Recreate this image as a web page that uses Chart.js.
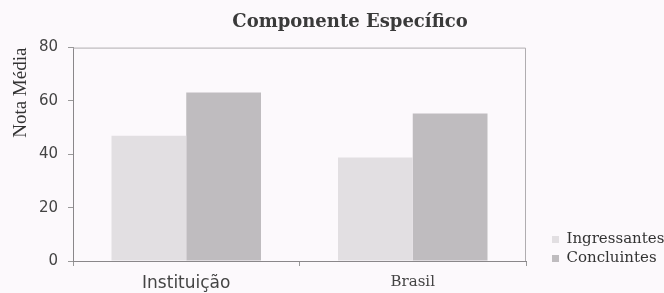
<!DOCTYPE html>
<html>
<head>
<meta charset="utf-8">
<script src="https://cdn.jsdelivr.net/npm/chart.js@4"></script>
<style>
  html, body { margin: 0; padding: 0; background: #fcf9fc; }
  #wrap { width: 664px; height: 293px; }
</style>
</head>
<body>
<div id="wrap"><canvas id="notaChart"></canvas></div>
<script>
// data
var categories = ['Instituição', 'Brasil'];
var ingressantes = [47, 38.8];
var concluintes = [63.2, 55.3];
var yTicks = [0, 20, 40, 60, 80];

document.addEventListener("DOMContentLoaded", function() {
    var ctx = document.getElementById('notaChart').getContext('2d');
    var serif = '"DejaVu Serif", serif';
    var sans = '"DejaVu Sans", sans-serif';

    // nudge legend and title to sit where the original ones do
    var boxSpots = {
        id: 'boxSpots',
        afterInit: function(c) {
            var lg = c.legend;
            var fit = lg.fit;
            lg.fit = function() {
                fit.call(this);
                this.width = 138;
            };
        },
        afterLayout: function(c) {
            c.legend.left = 548;
            c.legend.bottom = 270;
            c.titleBlock.left = 36;
            c.titleBlock.right = 664;
        }
    };

    var frame = {
        id: 'frame',
        afterDatasetsDraw: function(c) {
            var a = c.chartArea, g = c.ctx;
            g.save();
            g.strokeStyle = '#b0adb0';
            g.lineWidth = 1;
            g.beginPath();
            g.moveTo(a.left, a.top + 0.5);
            g.lineTo(a.right - 0.5, a.top + 0.5);
            g.lineTo(a.right - 0.5, a.bottom);
            g.stroke();
            g.restore();
        }
    };

    var chart = new Chart(ctx, {
        type: 'bar',
        data: {
            labels: categories,
            datasets: [{
                label: 'Ingressantes',
                data: ingressantes,
                backgroundColor: '#e2dfe2',
                borderWidth: 0
            }, {
                label: 'Concluintes',
                data: concluintes,
                backgroundColor: '#bfbcbf',
                borderWidth: 0
            }]
        },
        options: {
            responsive: true,
            maintainAspectRatio: false,
            animation: false,
            categoryPercentage: 0.66,
            barPercentage: 1,
            layout: { padding: 0 },
            plugins: {
                title: {
                    display: true,
                    text: 'Componente Específico',
                    color: '#3a3a3a',
                    font: { family: serif, size: 18, weight: 'bold' },
                    padding: { top: 12, bottom: 14 }
                },
                legend: {
                    position: 'right',
                    align: 'end',
                    labels: {
                        boxWidth: 7,
                        boxHeight: 7,
                        padding: 4,
                        color: '#333',
                        font: { family: serif, size: 15 }
                    }
                },
                tooltip: { enabled: false }
            },
            scales: {
                x: {
                    afterFit: function(s) { s.height = 32; },
                    grid: { display: true, drawOnChartArea: false, color: '#999', tickLength: 5 },
                    border: { color: '#8a878a' },
                    ticks: {
                        color: '#444',
                        padding: 7,
                        font: function(c) {
                            return c.index === 0
                                ? { family: sans, size: 17 }
                                : { family: serif, size: 15 };
                        }
                    }
                },
                y: {
                    min: 0,
                    max: 80,
                    afterFit: function(s) { s.width = 73; },
                    afterBuildTicks: function(axis) {
                        axis.ticks = yTicks.map(function(v) { return { value: v }; });
                    },
                    grid: { display: true, drawOnChartArea: false, color: '#999', tickLength: 5 },
                    border: { color: '#8a878a' },
                    title: {
                        display: true,
                        text: 'Nota Média',
                        align: 'end',
                        color: '#333',
                        font: { family: '"Liberation Serif", serif', size: 19 },
                        padding: { top: 10, bottom: 0 }
                    },
                    ticks: { color: '#444', padding: 10, font: { family: sans, size: 15 } }
                }
            }
        },
        plugins: [boxSpots, frame]
    });
});
</script>
</body>
</html>
